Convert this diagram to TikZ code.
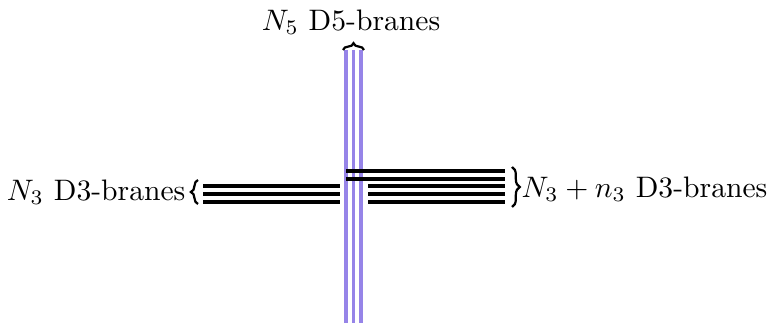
\documentclass[tikz,border=0pt]{standalone}
\usetikzlibrary{decorations.pathreplacing}
\definecolor{dfive}{RGB}{150,132,232}
\begin{document}
\begin{tikzpicture}[x=0.3375pt,y=-0.3375pt,
  dthree/.style={black,line width=1.35pt},
  dfiveline/.style={dfive,line width=1.25pt},
  bracestyle/.style={decorate,decoration={brace,amplitude=#1},line width=0.75pt},
  lbl/.style={inner sep=0pt}]
\useasboundingbox (0,0) rectangle (767,323);
% D5-branes
\foreach \x [count=\i] in {346,353.5,361}{
  \coordinate (t\i) at (\x,50);
  \coordinate (b\i) at (\x,325);
  \draw[dfiveline] (t\i) -- (b\i);
}
% left D3-branes
\foreach \y [count=\i] in {186,194,202}{
  \coordinate (la\i) at (203,\y);
  \coordinate (lb\i) at (340,\y);
  \draw[dthree] (la\i) -- (lb\i);
}
% right D3-branes, attached to D5
\foreach \y [count=\i] in {171,179}{
  \coordinate (ra\i) at (346,\y);
  \coordinate (rb\i) at (505,\y);
  \draw[dthree] (ra\i) -- (rb\i);
}
\foreach \y [count=\i] in {186,194,202}{
  \coordinate (sa\i) at (368,\y);
  \coordinate (sb\i) at (505,\y);
  \draw[dthree] (sa\i) -- (sb\i);
}
% braces
\coordinate (lbr1) at (198,204);
\coordinate (lbr2) at (198,180);
\draw[bracestyle=2.4pt] (lbr1) -- (lbr2);
\coordinate (rbr1) at (512,167);
\coordinate (rbr2) at (512,207);
\draw[bracestyle=2.6pt] (rbr1) -- (rbr2);
\coordinate (tbr1) at (343,50);
\coordinate (tbr2) at (364,50);
\draw[bracestyle=2.3pt] (tbr1) -- (tbr2);
% labels
\node[lbl,anchor=east] (lleft) at (186,192) {$N_3$ D3-branes};
\node[lbl,anchor=west] (lright) at (521,189) {$N_3+n_3$ D3-branes};
\node[lbl] (ltop) at (351,22) {$N_5$ D5-branes};
\end{tikzpicture}
\end{document}
